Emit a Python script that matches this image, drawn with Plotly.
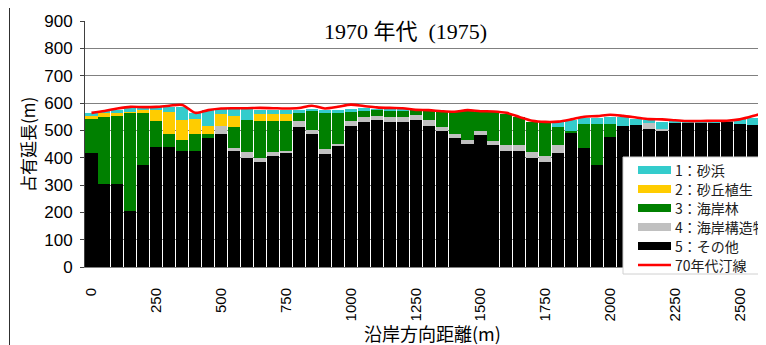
import plotly.graph_objects as go

# ---- data ----
distance = [0, 50, 100, 150, 200, 250, 300, 350, 400, 450, 500, 550, 600, 650, 700,
            750, 800, 850, 900, 950, 1000, 1050, 1100, 1150, 1200, 1250, 1300, 1350,
            1400, 1450, 1500, 1550, 1600, 1650, 1700, 1750, 1800, 1850, 1900, 1950,
            2000, 2050, 2100, 2150, 2200, 2250, 2300, 2350, 2400, 2450, 2500, 2550, 2600]

other = [418, 304, 304, 205, 373, 439, 439, 424, 424, 471, 486, 424, 399, 384, 406,
         418, 513, 488, 415, 444, 517, 531, 538, 531, 531, 538, 517, 499, 473, 451,
         484, 447, 426, 426, 400, 385, 418, 491, 437, 375, 476, 517, 519, 504, 499,
         528, 528, 528, 528, 531, 523, 519, 519]
structure = [0, 0, 0, 0, 0, 0, 0, 0, 0, 0, 30, 10, 22, 15, 15, 6, 21, 13, 16, 6, 17,
             17, 15, 17, 17, 18, 21, 14, 15, 14, 15, 15, 22, 21, 21, 22, 29, 0, 0, 0,
             0, 0, 0, 22, 5, 0, 0, 0, 0, 0, 0, 0, 0]
forest = [123, 246, 249, 359, 191, 95, 47, 41, 62, 15, 0, 78, 118, 135, 113, 110, 33,
          73, 136, 117, 33, 26, 23, 26, 26, 18, 31, 54, 78, 104, 68, 105, 111, 100,
          110, 123, 66, 8, 86, 148, 47, 0, 0, 0, 0, 0, 0, 0, 0, 0, 0, 0, 0]
dune = [15, 12, 12, 4, 12, 44, 81, 73, 55, 30, 43, 40, 0, 25, 25, 25, 0, 0, 0, 0, 0,
        0, 0, 0, 0, 0, 0, 0, 0, 0, 0, 0, 0, 0, 0, 0, 0, 0, 0, 0, 0, 0, 0, 0, 0, 0, 0,
        0, 0, 0, 0, 0, 0]
sand = [6, 8, 8, 12, 8, 6, 19, 48, 21, 58, 21, 28, 41, 14, 16, 16, 7, 4, 7, 7, 11, 6,
        2, 2, 2, 0, 0, 0, 0, 0, 0, 0, 0, 0, 0, 0, 17, 39, 21, 21, 26, 32, 21, 12, 26,
        7, 7, 3, 3, 3, 17, 25, 25]
shoreline_70s = [564, 571, 580, 586, 585, 586, 590, 593, 564, 574, 580, 581, 581, 582,
                 581, 580, 582, 590, 580, 586, 594, 589, 584, 582, 581, 575, 574, 570,
                 568, 574, 570, 569, 564, 549, 535, 531, 532, 540, 550, 552, 557, 553,
                 547, 541, 540, 537, 534, 534, 535, 535, 540, 552, 567]

x_ticks = [0, 250, 500, 750, 1000, 1250, 1500, 1750, 2000, 2250, 2500]
x_tick_labels = ["0", "250", "500", "750", "1000", "1250", "1500", "1750", "2000",
                 "2250", "2500"]
y_ticks = [0, 100, 200, 300, 400, 500, 600, 700, 800, 900]

legend_labels = ["1：砂浜", "2：砂丘植生", "3：海岸林", "4：海岸構造物", "5：その他", "70年代汀線"]
title_text = "1970 年代  (1975)"
x_title = "沿岸方向距離(m)"
y_title = "占有延長(m)"

# ---- styles ----
C_SAND = "#33CCCC"
C_DUNE = "#FFCC00"
C_FOREST = "#008000"
C_STRUCT = "#C0C0C0"
C_OTHER = "#000000"
C_LINE = "#FF0000"
JP = "Noto Sans CJK JP, Noto Sans, sans-serif"
NUM = "Liberation Sans, Arial, sans-serif"

# the page body has an 8px margin, so the figure is laid out in window pixels minus 8
OFF = 8
W, H = 766 - OFF, 345 - OFF
L, T = 85 - OFF, 21 - OFF
PW = W - L
PH = (267 - OFF) - T
B = H - T - PH


def px(xw):
    return (xw - OFF - L) / PW


def py(yw):
    return (T + PH - (yw - OFF)) / PH


fig = go.Figure()
for vals, col, name in [(other, C_OTHER, legend_labels[4]),
                        (structure, C_STRUCT, legend_labels[3]),
                        (forest, C_FOREST, legend_labels[2]),
                        (dune, C_DUNE, legend_labels[1]),
                        (sand, C_SAND, legend_labels[0])]:
    fig.add_trace(go.Bar(x=distance, y=vals, name=name, marker=dict(color=col, line=dict(width=0)),
                         showlegend=False))

fig.add_trace(go.Scatter(x=distance, y=shoreline_70s, mode="lines", name=legend_labels[5],
                         line=dict(color=C_LINE, width=2.6, shape="spline", smoothing=0.8),
                         showlegend=False))

fig.update_layout(
    width=W, height=H,
    margin=dict(l=L, r=0, t=T, b=B, pad=0),
    barmode="stack", bargap=0.07,
    plot_bgcolor="white", paper_bgcolor="white",
    showlegend=False,
    xaxis=dict(range=[-25, 2601], tickmode="array", tickvals=x_ticks, ticktext=x_tick_labels,
               tickangle=-90, tickfont=dict(family=NUM, size=15, color="black"),
               showgrid=False, zeroline=False, showline=True, linecolor="#808080",
               linewidth=1, ticks="", ticklabelstandoff=14),
    yaxis=dict(range=[0, 900], tickmode="array", tickvals=y_ticks,
               tickfont=dict(family=NUM, size=17, color="black"),
               showgrid=True, gridcolor="#808080", gridwidth=1, zeroline=False,
               showline=True, linecolor="#404040", linewidth=1,
               ticks="outside", ticklen=4, tickcolor="#404040", ticklabelstandoff=4),
)

shapes = []
# outer frame
shapes.append(dict(type="rect", xref="paper", yref="paper", x0=px(9.5), x1=px(900),
                   y0=py(500), y1=py(7), line=dict(color="#303030", width=1),
                   fillcolor="rgba(0,0,0,0)", layer="above"))
# legend box
shapes.append(dict(type="rect", xref="paper", yref="paper", x0=px(623), x1=px(900),
                   y0=py(274), y1=py(157), line=dict(color="#D0D0D0", width=1),
                   fillcolor="white", layer="above"))
row_y = [170, 189, 208, 227, 246, 265]
sw_colors = [C_SAND, C_DUNE, C_FOREST, C_STRUCT, C_OTHER]
for i, col in enumerate(sw_colors):
    shapes.append(dict(type="rect", xref="paper", yref="paper", x0=px(638), x1=px(671),
                       y0=py(row_y[i] + 4), y1=py(row_y[i] - 4), line=dict(width=0),
                       fillcolor=col, layer="above"))
shapes.append(dict(type="line", xref="paper", yref="paper", x0=px(638), x1=px(671),
                   y0=py(row_y[5]), y1=py(row_y[5]), line=dict(color=C_LINE, width=2.5),
                   layer="above"))
fig.update_layout(shapes=shapes)

annotations = []
for i, lab in enumerate(legend_labels):
    annotations.append(dict(text=lab, xref="paper", yref="paper", x=px(673), y=py(row_y[i]),
                            xanchor="left", yanchor="middle", showarrow=False,
                            font=dict(family=JP, size=14, color="#202020")))
annotations.append(dict(text=title_text, xref="paper", yref="paper", x=px(405), y=py(31),
                        xanchor="center", yanchor="middle", showarrow=False,
                        font=dict(family="Liberation Serif, Noto Sans CJK JP, serif", size=22,
                                  color="black")))
annotations.append(dict(text=x_title, xref="paper", yref="paper", x=px(432), y=py(333),
                        xanchor="center", yanchor="middle", showarrow=False,
                        font=dict(family=JP, size=18, color="black")))
annotations.append(dict(text=y_title, xref="paper", yref="paper", x=px(27), y=py(145),
                        xanchor="center", yanchor="middle", showarrow=False, textangle=-90,
                        font=dict(family=JP, size=17, color="black")))
fig.update_layout(annotations=annotations)

fig.write_html("out.html")
